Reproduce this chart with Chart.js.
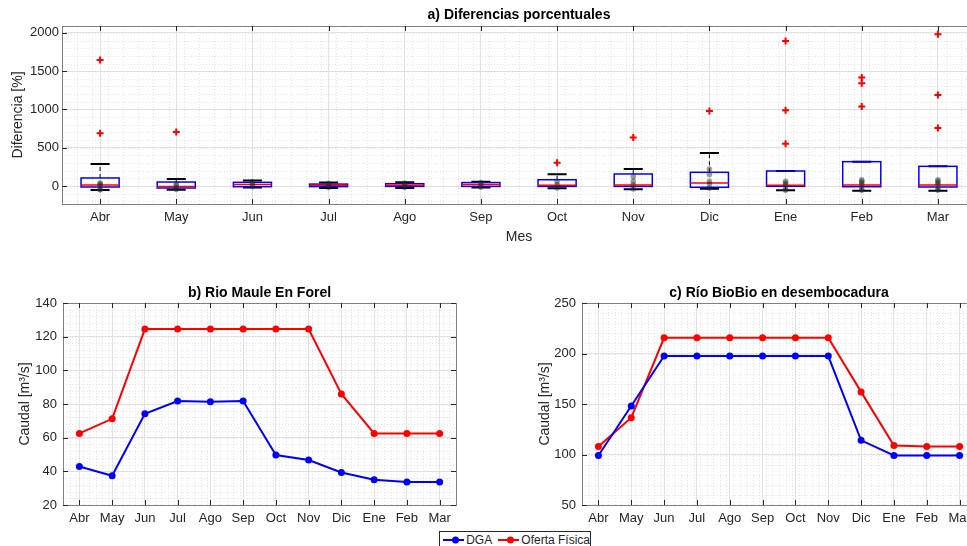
<!DOCTYPE html>
<html lang="es">
<head>
<meta charset="UTF-8">
<title>Diferencias porcentuales y caudales</title>
<script src="https://cdn.jsdelivr.net/npm/chart.js"></script>
<style>
    html, body { margin: 0; padding: 0; background: #fff; width: 967px; height: 546px; overflow: hidden; position: relative; }
    canvas { position: absolute; }
    #legend {
        position: absolute; left: 439px; top: 531px; width: 152px; height: 17px;
        border: 1px solid #262626; background: #fff; box-sizing: border-box;
        font: 12px "Liberation Sans", Arial, sans-serif; color: #262626;
        display: flex; align-items: center; padding-left: 3px; white-space: nowrap;
    }
    #legend svg { margin-right: 2px; }
</style>
</head>
<body>
<canvas id="chartA" width="1000" height="250" style="left:0;top:0"></canvas>
<canvas id="chartB" width="490" height="260" style="left:0;top:270px"></canvas>
<canvas id="chartC" width="520" height="260" style="left:490px;top:270px"></canvas>
<div id="legend">
    <svg width="25" height="10"><line x1="0" y1="5" x2="25" y2="5" stroke="#0000ff" stroke-width="2"/><circle cx="12.5" cy="5" r="3.5" fill="#0000ff"/></svg>
    <span style="margin-right:6px">DGA</span>
    <svg width="25" height="10"><line x1="0" y1="5" x2="25" y2="5" stroke="#ff0000" stroke-width="2"/><circle cx="12.5" cy="5" r="3.5" fill="#ff0000"/></svg>
    <span>Oferta Física</span>
</div>

<script>
    // ---- data ----
    const months = ['Abr', 'May', 'Jun', 'Jul', 'Ago', 'Sep', 'Oct', 'Nov', 'Dic', 'Ene', 'Feb', 'Mar'];

    // a) box plot per month
    const boxQ1    = [-13, -26, -9, -8, -5, -5, -5, -5, -17, -4, -9, -13];
    const boxMed   = [13, -5, 20, 10, 10, 20, 10, 13, 39, 9, 13, 13];
    const boxQ3    = [105, 52, 48, 25, 30, 45, 82, 157, 179, 196, 318, 257];
    const whiskLo  = [-52, -50, -20, -25, -25, -20, -30, -43, -35, -56, -61, -61];
    const whiskHi  = [288, 90, 73, 45, 50, 55, 152, 222, 431, 196, 318, 257];
    const outMonth = [1, 1, 2, 7, 8, 9, 10, 10, 10, 11, 11, 11, 12, 12, 12];
    const outValue = [1645, 690, 705, 305, 632, 980, 1895, 990, 553, 1416, 1342, 1037, 1983, 1190, 758];
    const dotMonth = [1, 1, 1, 1, 1, 2, 2, 2, 2, 3, 3, 3, 4, 4, 4, 5, 5, 5, 6, 6, 6,
                      7, 7, 7, 8, 8, 8, 8, 9, 9, 9, 9, 9, 10, 10, 10, 10, 10, 11, 11, 11, 11, 11, 11, 12, 12, 12, 12, 12, 12];
    const dotValue = [40, 25, 10, -45, -50, 30, 5, -30, -45, 55, 25, -10, 35, 10, -20, 40, 10, -20, 45, 15, -15,
                      60, 20, -25, 120, 60, 15, -40, 220, 150, 60, 25, -30, 60, 40, 15, -40, -55, 80, 60, 40, 15, -40, -55, 80, 60, 40, 15, -40, -55];
    const yTicksA = [0, 500, 1000, 1500, 2000];

    // b) Rio Maule En Forel
    const dgaMaule    = [42.9, 37.4, 74.2, 81.8, 81.4, 81.8, 49.7, 46.7, 39.3, 35.0, 33.6, 33.6];
    const ofertaMaule = [62.5, 71.2, 124.5, 124.5, 124.5, 124.5, 124.5, 124.5, 86.0, 62.5, 62.5, 62.5];
    const yTicksB = [20, 40, 60, 80, 100, 120, 140];

    // c) Rio BioBio en desembocadura
    const dgaBio    = [99, 148, 197.5, 197.5, 197.5, 197.5, 197.5, 197.5, 114, 99, 99, 99];
    const ofertaBio = [108, 136.5, 215.5, 215.5, 215.5, 215.5, 215.5, 215.5, 162, 109, 108, 108];
    const yTicksC = [50, 100, 150, 200, 250];

    // ---- shared look ----
    Chart.defaults.font.family = '"Liberation Sans", Arial, sans-serif';
    Chart.defaults.font.size = 13;
    Chart.defaults.color = '#262626';
    Chart.defaults.animation = false;

    const gridColor = '#e2e2e2';

    // dotted minor grid, frame and inner tick marks
    const matlabAxes = {
        id: 'matlabAxes',
        beforeDatasetsDraw(chart, args, opts) {
            const { ctx, chartArea: a, scales: { x, y } } = chart;
            ctx.save();
            ctx.strokeStyle = '#dadada';
            ctx.lineWidth = 0.7;
            ctx.setLineDash([1, 2]);
            const nx = Math.round((x.max - x.min) / opts.stepX);
            for (let i = 0; i <= nx; i++) {
                const v = x.min + i * opts.stepX;
                const px = Math.round(x.getPixelForValue(v)) + 0.5;
                ctx.beginPath(); ctx.moveTo(px, a.top); ctx.lineTo(px, a.bottom); ctx.stroke();
            }
            const y0 = Math.ceil(y.min / opts.stepY) * opts.stepY;
            for (let v = y0; v <= y.max; v += opts.stepY) {
                const py = Math.round(y.getPixelForValue(v)) + 0.5;
                ctx.beginPath(); ctx.moveTo(a.left, py); ctx.lineTo(a.right, py); ctx.stroke();
            }
            ctx.restore();
        },
        afterDatasetsDraw(chart) {
            const { ctx, chartArea: a, scales: { x, y } } = chart;
            ctx.save();
            ctx.strokeStyle = '#808080';
            ctx.lineWidth = 1;
            ctx.strokeRect(Math.round(a.left) + 0.5, Math.round(a.top) + 0.5,
                Math.round(a.right - a.left), Math.round(a.bottom - a.top));
            ctx.strokeStyle = '#262626';
            x.ticks.forEach(t => {
                const px = Math.round(x.getPixelForValue(t.value)) + 0.5;
                ctx.beginPath();
                ctx.moveTo(px, a.bottom); ctx.lineTo(px, a.bottom - 5);
                ctx.moveTo(px, a.top); ctx.lineTo(px, a.top + 5);
                ctx.stroke();
            });
            y.ticks.forEach(t => {
                const py = Math.round(y.getPixelForValue(t.value)) + 0.5;
                ctx.beginPath();
                ctx.moveTo(a.left, py); ctx.lineTo(a.left + 5, py);
                ctx.moveTo(a.right, py); ctx.lineTo(a.right - 5, py);
                ctx.stroke();
            });
            ctx.restore();
        }
    };

    // boxes, whiskers and medians drawn through the scales
    const boxPlot = {
        id: 'boxPlot',
        beforeDatasetsDraw(chart) {
            const { ctx, scales: { x, y } } = chart;
            ctx.save();
            months.forEach((m, i) => {
                const cx = x.getPixelForValue(i + 1);
                const halfBox = x.getPixelForValue(i + 1.25) - cx;
                const halfCap = x.getPixelForValue(i + 1.125) - cx;
                const pq1 = y.getPixelForValue(boxQ1[i]);
                const pq3 = y.getPixelForValue(boxQ3[i]);
                const plo = y.getPixelForValue(whiskLo[i]);
                const phi = y.getPixelForValue(whiskHi[i]);
                const pmd = y.getPixelForValue(boxMed[i]);
                // whiskers
                ctx.strokeStyle = '#000';
                ctx.lineWidth = 1;
                ctx.setLineDash([4, 3]);
                ctx.beginPath();
                ctx.moveTo(cx, pq3); ctx.lineTo(cx, phi);
                ctx.moveTo(cx, pq1); ctx.lineTo(cx, plo);
                ctx.stroke();
                ctx.setLineDash([]);
                ctx.lineWidth = 2;
                ctx.beginPath();
                ctx.moveTo(cx - halfCap, phi); ctx.lineTo(cx + halfCap, phi);
                ctx.moveTo(cx - halfCap, plo); ctx.lineTo(cx + halfCap, plo);
                ctx.stroke();
                // box
                ctx.strokeStyle = '#0000ff';
                ctx.lineWidth = 1.5;
                ctx.strokeRect(cx - halfBox, pq3, 2 * halfBox, pq1 - pq3);
                // median
                ctx.strokeStyle = '#ff0000';
                ctx.beginPath();
                ctx.moveTo(cx - halfBox, pmd); ctx.lineTo(cx + halfBox, pmd);
                ctx.stroke();
            });
            ctx.restore();
        }
    };

    function monthAxis(height, padding) {
        return {
            type: 'linear', min: 0.5, max: 12.5,
            afterBuildTicks: s => { s.ticks = months.map((m, i) => ({ value: i + 1 })); },
            ticks: { callback: v => months[v - 1], padding: padding, maxRotation: 0, autoSkip: false },
            grid: { color: gridColor, drawTicks: false },
            border: { display: false },
            afterFit: s => { s.height = height; }
        };
    }

    function valueAxis(min, max, ticks, width, label, titlePad, tickPad) {
        return {
            type: 'linear', min: min, max: max,
            afterBuildTicks: s => { s.ticks = ticks.map(v => ({ value: v })); },
            ticks: { padding: tickPad, callback: v => String(v) },
            grid: { color: gridColor, drawTicks: false },
            border: { display: false },
            title: { display: true, text: label, font: { size: 14 }, padding: { top: titlePad, bottom: 0 } },
            afterFit: s => { s.width = width; }
        };
    }

    function titleOpts(text, top, bottom) {
        return {
            display: true, text: text, fullSize: false, color: '#000',
            font: { size: 14, weight: 'bold' }, padding: { top: top, bottom: bottom }
        };
    }

    // ---- a) Diferencias porcentuales ----
    const xA = monthAxis(46, 6);
    xA.title = { display: true, text: 'Mes', font: { size: 14 }, padding: { top: 0, bottom: 4.6 } };
    new Chart(document.getElementById('chartA'), {
        type: 'scatter',
        data: {
            datasets: [
                {
                    data: outMonth.map((m, i) => ({ x: m, y: outValue[i] })),
                    pointStyle: 'cross', pointRadius: 3.5, borderWidth: 2,
                    borderColor: '#ff0000', backgroundColor: '#ff0000'
                },
                {
                    data: dotMonth.map((m, i) => ({ x: m, y: dotValue[i] })),
                    pointRadius: 2.8, borderWidth: 0,
                    backgroundColor: 'rgba(40,40,40,0.45)'
                }
            ]
        },
        options: {
            responsive: false, devicePixelRatio: 1,
            layout: { padding: { top: 0, right: 24, left: 0, bottom: 0 } },
            plugins: {
                legend: { display: false }, tooltip: { enabled: false },
                title: titleOpts('a) Diferencias porcentuales', 6.6, 2.6),
                matlabAxes: { stepX: 0.2, stepY: 100 }
            },
            scales: {
                x: xA,
                y: valueAxis(-235, 2090, yTicksA, 62, 'Diferencia [%]', 9.6, 3)
            }
        },
        plugins: [matlabAxes, boxPlot]
    });

    // ---- b) and c) caudales ----
    function lineChart(id, title, dga, oferta, yMin, yMax, yTicks, yWidth, titlePad, padRight, stepY) {
        new Chart(document.getElementById(id), {
            type: 'line',
            data: {
                datasets: [
                    {
                        label: 'DGA',
                        data: dga.map((v, i) => ({ x: i + 1, y: v })),
                        borderColor: '#0000ff', backgroundColor: '#0000ff',
                        borderWidth: 2, pointRadius: 3.5, pointBorderWidth: 0, tension: 0
                    },
                    {
                        label: 'Oferta Física',
                        data: oferta.map((v, i) => ({ x: i + 1, y: v })),
                        borderColor: '#ff0000', backgroundColor: '#ff0000',
                        borderWidth: 2, pointRadius: 3.5, pointBorderWidth: 0, tension: 0
                    }
                ]
            },
            options: {
                responsive: false, devicePixelRatio: 1,
                layout: { padding: { top: 0, right: padRight, left: 0, bottom: 0 } },
                plugins: {
                    legend: { display: false }, tooltip: { enabled: false },
                    title: titleOpts(title, 14.6, 1.6),
                    matlabAxes: { stepX: 0.2, stepY: stepY }
                },
                scales: {
                    x: monthAxis(25, 6),
                    y: valueAxis(yMin, yMax, yTicks, yWidth, 'Caudal [m³/s]', titlePad, 6)
                }
            },
            plugins: [matlabAxes]
        });
    }

    lineChart('chartB', 'b) Rio Maule En Forel', dgaMaule, ofertaMaule, 20, 140, yTicksB, 63, 16.6, 34, 4);
    lineChart('chartC', 'c) Río BioBio en desembocadura', dgaBio, ofertaBio, 50, 250, yTicksC, 92, 46.6, 34, 10);
</script>
</body>
</html>
